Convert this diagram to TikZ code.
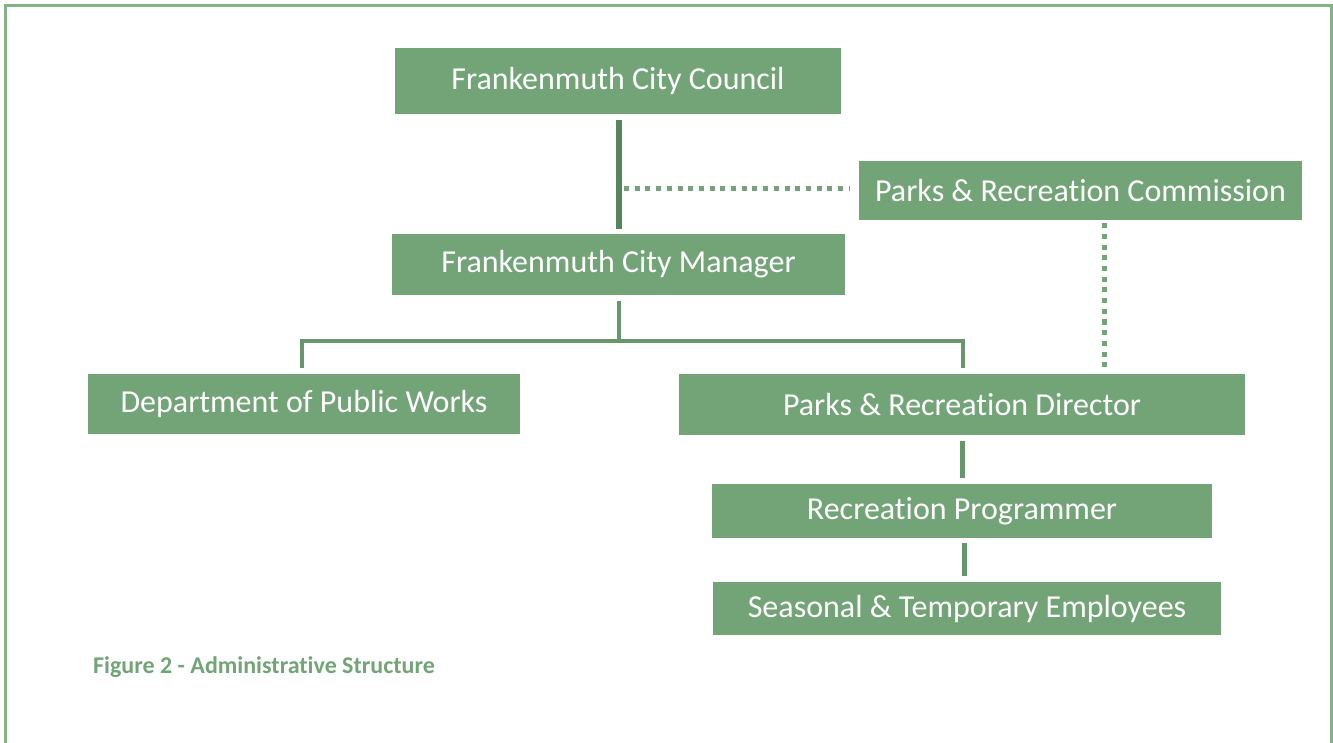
\documentclass[tikz,border=0pt]{standalone}
\usepackage{fontspec}
\setmainfont{Carlito}[RawFeature={-liga,-clig,-calt,-dlig,-rlig}]
\definecolor{boxgreen}{RGB}{114,164,119}
\definecolor{linegreen}{RGB}{104,150,108}
\definecolor{darkline}{RGB}{88,132,92}
\definecolor{framegreen}{RGB}{128,180,131}
\newcommand{\tisplit}{t\kern0pt i}
\tikzset{
  orgbox/.style={fill=boxgreen,text=white,inner sep=0pt,
    font=\fontsize{32}{38}\selectfont},
  tieline/.style={linegreen,line width=4pt},
  dotline/.style={boxgreen,line width=5pt,dash pattern=on 5pt off 5.7pt}
}
\begin{document}
\begin{tikzpicture}[x=1pt,y=-1pt]
\useasboundingbox (0,0) rectangle (1333,743);
% frame
\draw[framegreen,line width=3pt] (5.5,743) -- (5.5,5.5) -- (1331,5.5) -- (1331,743);
% boxes
\node[orgbox,minimum width=446pt,minimum height=66pt] (council) at (618,81) {Frankenmuth City Council};
\node[orgbox,minimum width=443pt,minimum height=59pt] (comm) at (1080.5,190.5) {Parks \& Recrea\tisplit on Commission};
\node[orgbox,minimum width=453pt,minimum height=61pt] (mgr) at (618.5,264.5) {Frankenmuth City Manager};
\node[orgbox,minimum width=432pt,minimum height=60pt] (dpw) at (304,404) {Department of Public Works};
\node[orgbox,minimum width=566pt,minimum height=61pt] (dir) at (962,404.5) {Parks \& Recrea\tisplit on Director};
\node[orgbox,minimum width=500pt,minimum height=54pt] (prog) at (962,511) {Recrea\tisplit on Programmer};
\node[orgbox,minimum width=508pt,minimum height=53pt] (temp) at (967,608.5) {Seasonal \& Temporary Employees};
% connectors
\draw[darkline,line width=6pt,shorten <=6pt,shorten >=5pt] (council.south -| 619,0) -- (mgr.north -| 619,0);
\coordinate (advise) at (624,189);
\draw[dotline,shorten >=10pt] (advise) -- (comm.west |- advise);
\coordinate (split) at (619,341);
\draw[tieline,shorten <=6pt] (mgr.south -| split) -- (split);
\draw[tieline,shorten >=6pt] (split) -| ([xshift=-2pt]dpw.north);
\draw[tieline,shorten >=6pt] (split) -| ([xshift=1pt]dir.north);
\coordinate (cd) at (1104,0);
\draw[dotline,shorten <=3pt,shorten >=3pt] (comm.south -| cd) -- (dir.north -| cd);
\draw[tieline,line width=5pt,shorten <=6pt,shorten >=6pt] (dir.south) -- (prog.north);
\draw[tieline,line width=5pt,shorten <=5pt,shorten >=6pt] (prog.south -| 964.5,0) -- (temp.north -| 964.5,0);
% caption
\node[boxgreen,anchor=west,inner sep=0pt,font=\bfseries\fontsize{24}{29}\selectfont] (cap) at (93,667) {Figure 2 - Administra\tisplit ve Structure};
\end{tikzpicture}
\end{document}
